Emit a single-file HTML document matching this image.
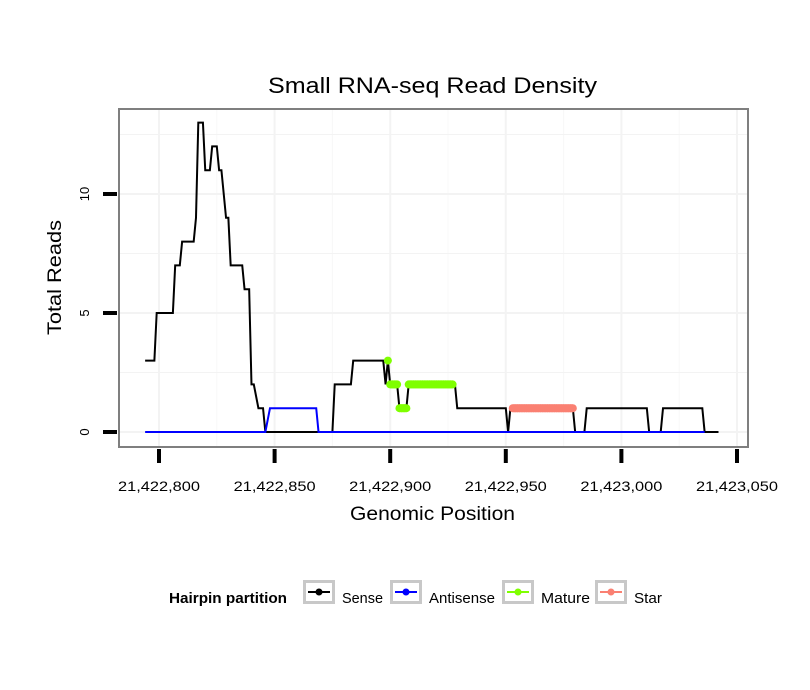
<!DOCTYPE html>
<html><head><meta charset="utf-8"><style>
body{margin:0;background:#fff;}
svg{display:block;font-family:"Liberation Sans",sans-serif;}
</style></head><body>
<svg id="chart" width="810" height="690">
<text x="268" y="93" textLength="329" lengthAdjust="spacingAndGlyphs" font-size="22">Small RNA-seq Read Density</text>
<rect x="119" y="109" width="629" height="338" fill="#fff" stroke="#7f7f7f" stroke-width="2"/>
<g id="grid"></g>
<g id="series"></g>
<g id="axes"></g>
<text x="350" y="520" textLength="165" lengthAdjust="spacingAndGlyphs" font-size="19">Genomic Position</text>
<text transform="translate(61,335) rotate(-90)" textLength="115" lengthAdjust="spacingAndGlyphs" font-size="19">Total Reads</text>
<g>
<text x="169" y="603" textLength="118" lengthAdjust="spacingAndGlyphs" font-size="15" font-weight="bold">Hairpin partition</text>
<g><rect x="304.5" y="581.5" width="29" height="21" fill="#fff" stroke="#c8c8c8" stroke-width="3"/><line x1="308" y1="592" x2="330" y2="592" stroke="#000" stroke-width="2"/><circle cx="319" cy="592" r="3.5" fill="#000"/><text x="342" y="603" textLength="41" lengthAdjust="spacingAndGlyphs" font-size="15">Sense</text></g>
<g><rect x="391.5" y="581.5" width="29" height="21" fill="#fff" stroke="#c8c8c8" stroke-width="3"/><line x1="395" y1="592" x2="417" y2="592" stroke="#0000ff" stroke-width="2"/><circle cx="406" cy="592" r="3.5" fill="#0000ff"/><text x="429" y="603" textLength="66" lengthAdjust="spacingAndGlyphs" font-size="15">Antisense</text></g>
<g><rect x="503.5" y="581.5" width="29" height="21" fill="#fff" stroke="#c8c8c8" stroke-width="3"/><line x1="507" y1="592" x2="529" y2="592" stroke="#7fff00" stroke-width="2"/><circle cx="518" cy="592" r="3.5" fill="#7fff00"/><text x="541" y="603" textLength="49" lengthAdjust="spacingAndGlyphs" font-size="15">Mature</text></g>
<g><rect x="596.5" y="581.5" width="29" height="21" fill="#fff" stroke="#c8c8c8" stroke-width="3"/><line x1="600" y1="592" x2="622" y2="592" stroke="#fa8072" stroke-width="2"/><circle cx="611" cy="592" r="3.5" fill="#fa8072"/><text x="634" y="603" textLength="28" lengthAdjust="spacingAndGlyphs" font-size="15">Star</text></g>
</g>
</svg>
<script>
const xTicks = [21422800, 21422850, 21422900, 21422950, 21423000, 21423050];
const xTickLabels = ["21,422,800","21,422,850","21,422,900","21,422,950","21,423,000","21,423,050"];
const yTicks = [0, 5, 10];
const yTickLabels = ["0","5","10"];
// keypoints [offset from 21422800, reads]; lines connect consecutive keypoints
const senseOffsets = [-6,-2,-1,6,7,9,10,15,16,17,19,20,22,23,25,26,27,29,30,31,36,37,39,40,41,43,45,46,75,76,83,84,97,98,99,100,103,104,107,108,128,129,150,151,152,179,180,184,185,211,212,217,218,235,236,242];
const senseReads   = [3,3,5,5,7,7,8,8,9,13,13,11,11,12,12,11,11,9,9,7,7,6,6,2,2,1,1,0,0,2,2,3,3,2,3,2,2,1,1,2,2,1,1,0,1,1,0,0,1,1,0,0,1,1,0,0];
const antisenseOffsets = [-6,46,48,68,69,236];
const antisenseReads   = [0,0,1,1,0,0];
const matureOffsets = [99,100,103,104,107,108,127];
const matureReads   = [3,2,2,1,1,2,2];
const starOffsets = [153,179];
const starReads   = [1,1];
const base = 21422800;

const NS="http://www.w3.org/2000/svg";
const x = v => 159 + (v - 21422800) * 2.312;
const y = v => 432 - v * 23.8;
function mk(tag, attrs, parent){const e=document.createElementNS(NS,tag);for(const k in attrs)e.setAttribute(k,attrs[k]);parent.appendChild(e);return e;}
const grid=document.getElementById('grid'), axes=document.getElementById('axes'), series=document.getElementById('series');
xTicks.forEach((t,i)=>{ if(x(t)<747){const l=mk('line',{x1:x(t),x2:x(t),y1:110,y2:446,stroke:'#f3f3f3','stroke-width':2},grid);

}
 if(i<xTicks.length-1){const m=x((t+xTicks[i+1])/2); if(m<747){const l2=mk('line',{x1:m,x2:m,y1:110,y2:446,stroke:'#f8f8f8','stroke-width':1},grid);

}}});
[0,2.5,5,7.5,10,12.5].forEach(t=>{const l=mk('line',{x1:120,x2:747,y1:y(t),y2:y(t),stroke:'#f3f3f3','stroke-width':t%5===0?2:1},grid);

});
xTicks.forEach((t,i)=>{const l=mk('line',{x1:x(t),x2:x(t),y1:449,y2:463,stroke:'#000','stroke-width':4},axes);


const tx=mk('text',{x:x(t)-41,y:491,textLength:82,lengthAdjust:'spacingAndGlyphs','font-size':14},axes);tx.textContent=xTickLabels[i];

});
yTicks.forEach((t,i)=>{const l=mk('line',{x1:103,x2:117,y1:y(t),y2:y(t),stroke:'#000','stroke-width':4},axes);


const tx=mk('text',{transform:`translate(89,${y(t)}) rotate(-90)`,'text-anchor':'middle','font-size':13},axes);tx.textContent=yTickLabels[i];

});
function pts(o,r){return o.map((v,i)=>x(base+v)+','+y(r[i])).join(' ');}
const s=mk('polyline',{points:pts(senseOffsets,senseReads),fill:'none',stroke:'#000','stroke-width':2},series);


const a=mk('polyline',{points:pts(antisenseOffsets,antisenseReads),fill:'none',stroke:'#0000ff','stroke-width':2},series);


function dots(o,r,color,name){
 const all=[];for(let i=0;i<o.length;i++){all.push([o[i],r[i]]);if(i<o.length-1)for(let p=o[i]+1;p<o[i+1];p++){if(r[i]===r[i+1])all.push([p,r[i]]);}}
 all.forEach(d=>{const c=mk('circle',{cx:x(base+d[0]),cy:y(d[1]),r:4,fill:color},series);
 
 });
 for(let i=0;i<o.length-1;i++){ if(r[i]!==r[i+1]) continue;
 const l=mk('line',{x1:x(base+o[i]),y1:y(r[i]),x2:x(base+o[i+1]),y2:y(r[i+1]),stroke:color,'stroke-width':8},series);
 
 }}
dots(matureOffsets,matureReads,'#7fff00','mature');
dots(starOffsets,starReads,'#fa8072','star');
</script>
</body></html>
